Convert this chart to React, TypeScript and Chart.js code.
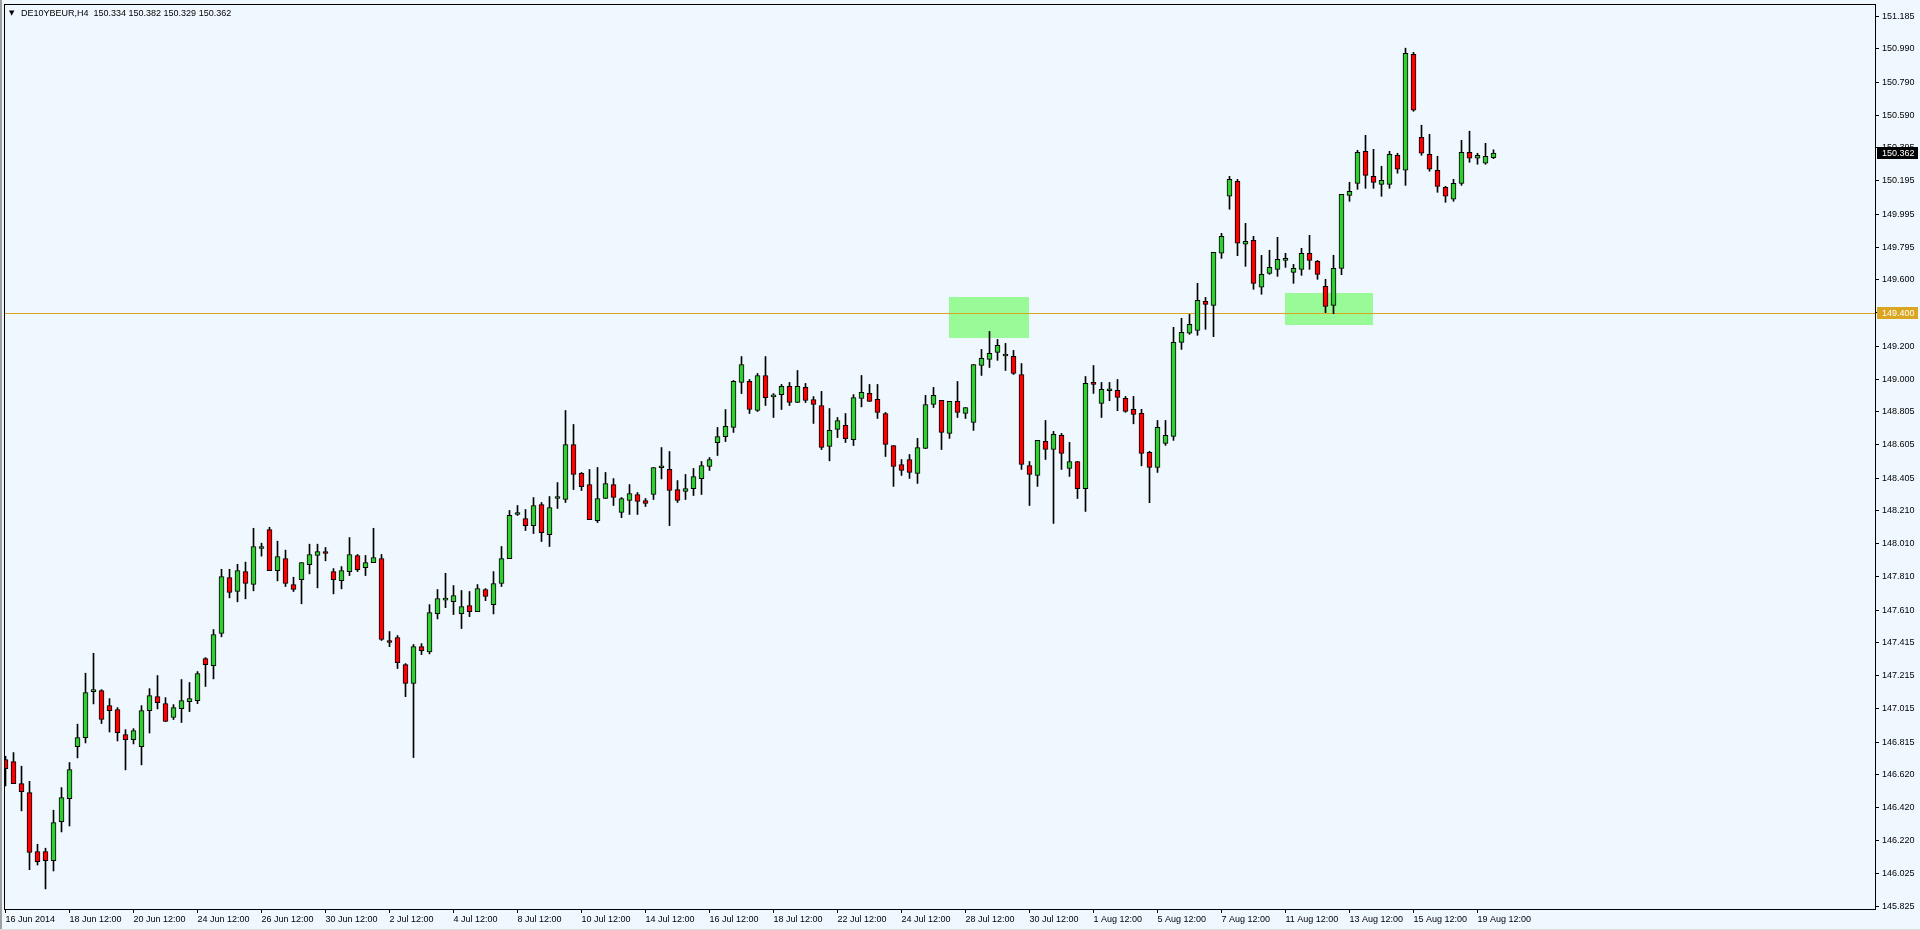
import React, { useEffect, useRef } from 'react';
import { Chart, registerables } from 'chart.js';

Chart.register(...registerables);

// ---------------- data ----------------
const symbolName = 'DE10YBEUR,H4';

const opens = [
  146.710, 146.698, 146.565, 146.511, 146.156, 146.156, 146.101, 146.336, 146.475, 146.788,
  146.842, 147.119, 147.125, 147.035, 147.011, 146.860, 146.830, 146.788, 147.005, 147.089,
  147.047, 146.963, 147.017, 147.059, 147.065, 147.318, 147.276, 147.469, 147.806, 147.722,
  147.842, 147.764, 147.981, 148.095, 147.848, 147.921, 147.764, 147.794, 147.884, 147.939,
  147.963, 147.842, 147.788, 147.842, 147.939, 147.866, 147.896, 147.921, 147.427, 147.445,
  147.282, 147.168, 147.390, 147.358, 147.589, 147.670, 147.661, 147.589, 147.637, 147.601,
  147.734, 147.643, 147.770, 147.920, 148.186, 148.161, 148.119, 148.246, 148.065, 148.282,
  148.276, 148.607, 148.433, 148.366, 148.149, 148.282, 148.366, 148.198, 148.270, 148.306,
  148.270, 148.306, 148.467, 148.457, 148.336, 148.324, 148.342, 148.402, 148.475, 148.619,
  148.655, 148.710, 148.981, 148.987, 148.812, 149.023, 148.894, 148.908, 148.957, 148.860,
  148.951, 148.878, 148.842, 148.595, 148.698, 148.722, 148.637, 148.885, 148.915, 148.879,
  148.794, 148.601, 148.487, 148.517, 148.433, 148.583, 148.848, 148.873, 148.674, 148.867,
  148.794, 148.740, 149.083, 149.120, 149.162, 149.140, 149.138, 149.029, 148.481, 148.421,
  148.626, 148.577, 148.662, 148.463, 148.505, 148.342, 148.981, 148.855, 148.931, 148.933,
  148.885, 148.819, 148.795, 148.560, 148.469, 148.614, 148.656, 149.222, 149.277, 149.295,
  149.469, 149.445, 149.759, 150.102, 150.192, 149.813, 149.837, 149.554, 149.638, 149.662,
  149.716, 149.644, 149.662, 149.759, 149.710, 149.560, 149.445, 149.668, 150.108, 150.180,
  150.373, 150.222, 150.174, 150.174, 150.349, 150.259, 150.957, 150.457, 150.355, 150.259,
  150.156, 150.084, 150.180, 150.367, 150.331, 150.301, 150.334,
];

const highs = [
  146.730, 146.752, 146.670, 146.579, 146.200, 146.176, 146.405, 146.541, 146.692, 146.923,
  147.230, 147.350, 147.131, 147.077, 147.023, 146.890, 146.896, 147.035, 147.137, 147.216,
  147.083, 147.041, 147.192, 147.174, 147.240, 147.324, 147.493, 147.856, 147.856, 147.886,
  147.899, 148.103, 148.013, 148.109, 148.025, 147.971, 147.808, 147.896, 148.007, 148.007,
  147.987, 147.860, 147.872, 148.047, 147.945, 147.939, 148.103, 147.945, 147.481, 147.457,
  147.288, 147.403, 147.408, 147.643, 147.734, 147.832, 147.758, 147.728, 147.722, 147.764,
  147.740, 147.842, 147.993, 148.210, 148.240, 148.216, 148.288, 148.258, 148.294, 148.378,
  148.812, 148.728, 148.439, 148.457, 148.469, 148.439, 148.402, 148.288, 148.366, 148.318,
  148.282, 148.469, 148.589, 148.565, 148.390, 148.427, 148.463, 148.505, 148.529, 148.710,
  148.818, 148.993, 149.137, 148.999, 149.035, 149.137, 148.914, 148.969, 148.981, 149.053,
  148.975, 148.896, 148.927, 148.824, 148.770, 148.794, 148.908, 149.023, 148.969, 148.969,
  148.800, 148.601, 148.517, 148.547, 148.644, 148.903, 148.951, 148.873, 148.867, 148.987,
  148.830, 149.089, 149.180, 149.288, 149.240, 149.216, 149.174, 149.095, 148.505, 148.632,
  148.752, 148.686, 148.674, 148.620, 148.505, 149.017, 149.083, 148.981, 148.981, 148.999,
  148.897, 148.897, 148.819, 148.566, 148.752, 148.752, 149.313, 149.367, 149.391, 149.578,
  149.493, 149.765, 149.879, 150.222, 150.204, 149.939, 149.861, 149.746, 149.777, 149.855,
  149.759, 149.692, 149.789, 149.867, 149.716, 149.602, 149.747, 150.114, 150.186, 150.379,
  150.469, 150.385, 150.283, 150.373, 150.361, 150.994, 150.969, 150.530, 150.475, 150.343,
  150.162, 150.204, 150.439, 150.494, 150.361, 150.421, 150.382,
];

const lows = [
  146.551, 146.565, 146.401, 146.047, 146.075, 145.931, 146.039, 146.274, 146.310, 146.720,
  146.810, 147.045, 146.927, 146.876, 146.822, 146.648, 146.804, 146.678, 146.870, 147.015,
  146.939, 146.951, 146.933, 146.999, 147.047, 147.150, 147.196, 147.449, 147.684, 147.660,
  147.678, 147.726, 147.935, 147.848, 147.786, 147.752, 147.722, 147.648, 147.828, 147.744,
  147.907, 147.708, 147.738, 147.818, 147.842, 147.818, 147.896, 147.427, 147.390, 147.258,
  147.089, 146.722, 147.342, 147.346, 147.557, 147.625, 147.583, 147.499, 147.571, 147.601,
  147.667, 147.587, 147.752, 147.920, 148.180, 148.089, 148.071, 148.023, 147.993, 148.222,
  148.258, 148.336, 148.330, 148.155, 148.137, 148.282, 148.240, 148.167, 148.186, 148.186,
  148.234, 148.276, 148.400, 148.119, 148.258, 148.276, 148.300, 148.306, 148.451, 148.541,
  148.625, 148.680, 148.914, 148.794, 148.806, 148.842, 148.770, 148.818, 148.842, 148.860,
  148.860, 148.734, 148.577, 148.509, 148.649, 148.619, 148.601, 148.834, 148.867, 148.764,
  148.535, 148.355, 148.421, 148.403, 148.373, 148.583, 148.830, 148.577, 148.644, 148.770,
  148.764, 148.692, 149.023, 149.071, 149.114, 149.053, 149.029, 148.457, 148.240, 148.355,
  148.517, 148.132, 148.457, 148.415, 148.282, 148.204, 148.915, 148.770, 148.871, 148.811,
  148.801, 148.732, 148.479, 148.257, 148.439, 148.602, 148.632, 149.180, 149.271, 149.265,
  149.301, 149.257, 149.728, 150.024, 149.744, 149.680, 149.542, 149.512, 149.632, 149.620,
  149.674, 149.578, 149.626, 149.662, 149.602, 149.401, 149.395, 149.630, 150.072, 150.144,
  150.150, 150.150, 150.102, 150.150, 150.241, 150.168, 150.614, 150.349, 150.253, 150.126,
  150.066, 150.072, 150.168, 150.307, 150.295, 150.295, 150.329,
];

const closes = [
  146.655, 146.565, 146.517, 146.150, 146.095, 146.101, 146.330, 146.481, 146.650, 146.842,
  147.113, 147.131, 146.951, 147.005, 146.872, 146.830, 146.884, 147.005, 147.095, 147.053,
  146.939, 147.023, 147.065, 147.077, 147.228, 147.282, 147.463, 147.812, 147.716, 147.848,
  147.770, 147.993, 147.981, 147.848, 147.933, 147.770, 147.734, 147.896, 147.945, 147.963,
  147.951, 147.794, 147.848, 147.945, 147.854, 147.896, 147.927, 147.433, 147.415, 147.294,
  147.168, 147.390, 147.366, 147.595, 147.680, 147.672, 147.698, 147.631, 147.601, 147.740,
  147.692, 147.770, 147.920, 148.180, 148.198, 148.119, 148.240, 148.077, 148.228, 148.282,
  148.607, 148.427, 148.354, 148.155, 148.282, 148.372, 148.288, 148.282, 148.312, 148.264,
  148.252, 148.469, 148.467, 148.330, 148.270, 148.342, 148.414, 148.481, 148.517, 148.655,
  148.716, 148.987, 149.089, 148.818, 149.023, 148.890, 148.894, 148.957, 148.860, 148.957,
  148.872, 148.848, 148.589, 148.692, 148.752, 148.643, 148.890, 148.921, 148.867, 148.800,
  148.608, 148.475, 148.451, 148.439, 148.589, 148.848, 148.903, 148.680, 148.867, 148.800,
  148.830, 149.089, 149.126, 149.156, 149.204, 149.140, 149.035, 148.487, 148.427, 148.632,
  148.577, 148.668, 148.553, 148.505, 148.342, 148.975, 148.969, 148.939, 148.931, 148.891,
  148.807, 148.789, 148.554, 148.469, 148.710, 148.662, 149.222, 149.283, 149.331, 149.475,
  149.451, 149.765, 149.861, 150.204, 149.819, 149.831, 149.578, 149.632, 149.674, 149.722,
  149.716, 149.668, 149.759, 149.716, 149.632, 149.439, 149.668, 150.114, 150.132, 150.367,
  150.228, 150.186, 150.198, 150.355, 150.265, 150.963, 150.620, 150.361, 150.265, 150.162,
  150.102, 150.180, 150.367, 150.331, 150.349, 150.343, 150.362,
];

const xTickBars = [0, 8, 16, 24, 32, 40, 48, 56, 64, 72, 80, 88, 96, 104, 112, 120, 128, 136, 144, 152, 160, 168, 176, 184];
const xTickLabels = [
  '16 Jun 2014', '18 Jun 12:00', '20 Jun 12:00', '24 Jun 12:00', '26 Jun 12:00', '30 Jun 12:00',
  '2 Jul 12:00', '4 Jul 12:00', '8 Jul 12:00', '10 Jul 12:00', '14 Jul 12:00', '16 Jul 12:00',
  '18 Jul 12:00', '22 Jul 12:00', '24 Jul 12:00', '28 Jul 12:00', '30 Jul 12:00', '1 Aug 12:00',
  '5 Aug 12:00', '7 Aug 12:00', '11 Aug 12:00', '13 Aug 12:00', '15 Aug 12:00', '19 Aug 12:00',
];

const yTickValues = [
  151.185, 150.990, 150.790, 150.590, 150.395, 150.195, 149.995, 149.795, 149.600, 149.400,
  149.200, 149.000, 148.805, 148.605, 148.405, 148.210, 148.010, 147.810, 147.610, 147.415,
  147.215, 147.015, 146.815, 146.620, 146.420, 146.220, 146.025, 145.825,
];

const levelPrice = 149.4;

// highlighted zones (bar index range, price range)
const zoneFromBar = [117.9, 159.9];
const zoneToBar = [127.9, 170.9];
const zoneHighPrice = [149.495, 149.519];
const zoneLowPrice = [149.25, 149.328];

// ---------------- styles ----------------
const BG = '#F0F8FF';
const BULL = '#32CD32';
const BEAR = '#FF0000';
const LEVEL = '#DAA520';
const ZONE = '#98FB98';
const FONT_FAMILY = "'Liberation Sans', Arial, sans-serif";
const FONT_SIZE = 9;

const zeroPadding = (scale: any) => {
  scale.paddingTop = 0;
  scale.paddingBottom = 0;
  scale.paddingLeft = 0;
  scale.paddingRight = 0;
};

const mt4Plugin = {
  id: 'mt4',
  beforeDraw(chart: any) {
    const { ctx, width, height } = chart;
    ctx.save();
    ctx.fillStyle = BG;
    ctx.fillRect(0, 0, width, height);
    ctx.fillStyle = '#a0a0a0';
    ctx.fillRect(0, 0, 2, height);
    ctx.fillStyle = '#dcdcdc';
    ctx.fillRect(0, height - 1, width, 1);
    ctx.restore();
  },
  beforeDatasetsDraw(chart: any) {
    const { ctx, chartArea: a, scales } = chart;
    const x = scales.x;
    const y = scales.y;
    ctx.save();
    ctx.beginPath();
    ctx.rect(a.left, a.top, a.right - a.left, a.bottom - a.top);
    ctx.clip();
    ctx.fillStyle = ZONE;
    for (let k = 0; k < zoneFromBar.length; k++) {
      const x0 = Math.round(x.getPixelForValue(zoneFromBar[k]));
      const x1 = Math.round(x.getPixelForValue(zoneToBar[k]));
      const y0 = Math.round(y.getPixelForValue(zoneHighPrice[k]));
      const y1 = Math.round(y.getPixelForValue(zoneLowPrice[k]));
      ctx.fillRect(x0, y0, x1 - x0, y1 - y0);
    }
    const ly = Math.round(y.getPixelForValue(levelPrice)) + 0.5;
    ctx.strokeStyle = LEVEL;
    ctx.lineWidth = 1;
    ctx.beginPath();
    ctx.moveTo(a.left, ly);
    ctx.lineTo(a.right, ly);
    ctx.stroke();
    ctx.restore();
  },
  afterDraw(chart: any) {
    const { ctx, chartArea: a, scales } = chart;
    const y = scales.y;
    ctx.save();
    // plot frame
    ctx.strokeStyle = '#000';
    ctx.lineWidth = 1;
    ctx.strokeRect(a.left + 0.5, a.top + 0.5, a.right - a.left - 1, a.bottom - a.top - 1);
    const drawBox = (price: number, bg: string, text: string) => {
      const py = Math.round(y.getPixelForValue(price));
      ctx.fillStyle = bg;
      ctx.fillRect(a.right + 1, py - 6, 41, 12);
      ctx.fillStyle = '#fff';
      ctx.font = FONT_SIZE + 'px ' + FONT_FAMILY;
      ctx.textAlign = 'left';
      ctx.textBaseline = 'middle';
      ctx.fillText(text, a.right + 6, py + 0.5);
    };
    drawBox(levelPrice, LEVEL, levelPrice.toFixed(3));
    const last = closes[closes.length - 1];
    drawBox(last, '#000', last.toFixed(3));
    // title
    ctx.fillStyle = '#000';
    ctx.font = '7px DejaVu Sans, sans-serif';
    ctx.textAlign = 'left';
    ctx.textBaseline = 'middle';
    ctx.fillText('\u25BC', 9, 13);
    ctx.font = FONT_SIZE + 'px ' + FONT_FAMILY;
    const n = opens.length - 1;
    const title = symbolName + '  ' + [opens[n], highs[n], lows[n], closes[n]].map((v) => v.toFixed(3)).join(' ');
    ctx.fillText(title, 21, 13.5);
    ctx.restore();
  },
};

export default function App() {
  const ref = useRef<HTMLCanvasElement | null>(null);

  useEffect(() => {
    const canvas = ref.current;
    if (!canvas) return;
    const idx = opens.map((_, i) => i);
    const wickData = idx.map((i) => ({ x: i, y: [lows[i], highs[i]] }));
    const bodyData = idx.map((i) => ({ x: i, y: [opens[i], closes[i]] }));
    const bodyColors = idx.map((i) => (closes[i] >= opens[i] ? BULL : BEAR));

    const chart = new Chart(canvas, {
      type: 'bar',
      data: {
        datasets: [
          {
            label: 'wick',
            data: wickData as any,
            backgroundColor: '#000',
            borderWidth: 0,
            barThickness: 1,
            grouped: false,
            order: 2,
          } as any,
          {
            label: 'body',
            data: bodyData as any,
            backgroundColor: bodyColors,
            borderColor: '#000',
            borderWidth: 1,
            borderSkipped: false,
            barThickness: 5,
            minBarLength: 2,
            grouped: false,
            order: 1,
          } as any,
        ],
      },
      options: {
        animation: false,
        responsive: false,
        events: [],
        layout: { padding: { left: 4, top: 4, right: 0, bottom: 0 } },
        plugins: { legend: { display: false }, tooltip: { enabled: false } },
        scales: {
          x: {
            type: 'linear',
            min: -0.1875,
            max: 233.8125,
            offset: false,
            grid: { offset: false, drawOnChartArea: false, drawTicks: true, tickLength: 3, color: '#000' },
            border: { display: false },
            afterBuildTicks: (scale: any) => {
              scale.ticks = xTickBars.map((v) => ({ value: v }));
            },
            afterFit: (scale: any) => {
              scale.height = 20;
              zeroPadding(scale);
            },
            ticks: {
              autoSkip: false,
              maxRotation: 0,
              minRotation: 0,
              align: 'start',
              labelOffset: 0,
              padding: 1,
              color: '#000',
              font: { family: FONT_FAMILY, size: FONT_SIZE },
              callback: (_v: any, i: number) => xTickLabels[i],
            },
          } as any,
          y: {
            type: 'linear',
            position: 'right',
            min: 145.804,
            max: 151.26,
            grid: { drawOnChartArea: false, drawTicks: true, tickLength: 3, color: '#000' },
            border: { display: false },
            afterBuildTicks: (scale: any) => {
              scale.ticks = yTickValues.map((v) => ({ value: v }));
            },
            afterFit: (scale: any) => {
              scale.width = 44;
              zeroPadding(scale);
            },
            ticks: {
              autoSkip: false,
              padding: 3,
              color: '#000',
              font: { family: FONT_FAMILY, size: FONT_SIZE },
              callback: (v: any) => Number(v).toFixed(3),
            },
          } as any,
        },
      },
      plugins: [mt4Plugin],
    });
    return () => chart.destroy();
  }, []);

  return (
    <div style={{ position: 'fixed', left: 0, top: 0, width: 1920, height: 930, overflow: 'hidden', background: BG }}>
      <canvas ref={ref} width={1920} height={930} style={{ display: 'block', width: 1920, height: 930 }} />
    </div>
  );
}
